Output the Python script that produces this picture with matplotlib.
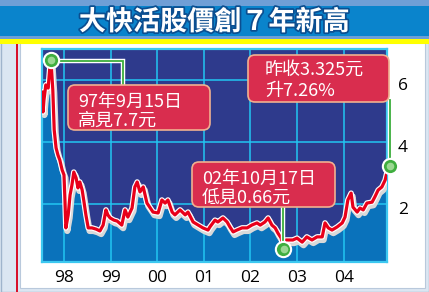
import matplotlib
matplotlib.use('Agg')
import matplotlib.pyplot as plt
import matplotlib.patheffects as pe
from matplotlib.patches import Rectangle, FancyBboxPatch
from matplotlib.transforms import ScaledTranslation

plt.rcParams['font.family'] = ['Noto Sans CJK TC', 'DejaVu Sans']

title = '大快活股價創７年新高'

dates = [1997.53, 1997.55, 1997.57, 1997.61, 1997.66, 1997.70, 1997.72, 1997.76, 1997.79, 1997.83,
         1997.87, 1997.91, 1997.96, 1998.00, 1998.02, 1998.04, 1998.09, 1998.13, 1998.17, 1998.21,
         1998.26, 1998.30, 1998.34, 1998.39, 1998.43, 1998.47, 1998.52, 1998.60, 1998.69, 1998.77,
         1998.84, 1998.90, 1998.94, 1998.99, 1999.07, 1999.14, 1999.24, 1999.31, 1999.37, 1999.46,
         1999.52, 1999.57, 1999.63, 1999.70, 1999.78, 1999.91, 2000.02, 2000.10, 2000.17, 2000.23,
         2000.32, 2000.38, 2000.49, 2000.60, 2000.66, 2000.77, 2000.88, 2000.98, 2001.09, 2001.13,
         2001.24, 2001.30, 2001.41, 2001.50, 2001.56, 2001.63, 2001.71, 2001.82, 2001.93, 2002.03,
         2002.14, 2002.21, 2002.31, 2002.38, 2002.46, 2002.53, 2002.59, 2002.66, 2002.70, 2002.76,
         2002.85, 2002.91, 2003.00, 2003.11, 2003.21, 2003.32, 2003.43, 2003.54, 2003.60, 2003.67,
         2003.75, 2003.86, 2003.97, 2004.03, 2004.09, 2004.16, 2004.20, 2004.29, 2004.35, 2004.42,
         2004.50, 2004.61, 2004.67, 2004.74, 2004.82, 2004.89, 2004.95, 2004.99]
prices = [5.61, 4.97, 5.35, 5.84, 5.74, 6.48, 6.65, 5.68, 4.39, 3.81,
          3.58, 3.42, 3.10, 2.94, 2.13, 1.23, 1.65, 2.29, 2.61, 3.03,
          2.84, 2.52, 2.71, 2.45, 2.06, 1.65, 1.23, 1.23, 1.19, 1.13,
          1.32, 1.81, 1.65, 1.55, 1.48, 1.45, 1.32, 1.81, 1.58, 1.87,
          2.55, 2.71, 2.39, 2.55, 2.03, 1.74, 1.71, 2.13, 2.03, 2.13,
          1.74, 1.65, 1.81, 1.65, 1.74, 1.42, 1.32, 1.23, 1.16, 1.26,
          1.48, 1.42, 1.55, 1.42, 1.26, 1.10, 1.16, 1.23, 1.23, 1.32,
          1.39, 1.32, 1.42, 1.55, 1.32, 1.23, 1.06, 0.90, 0.55, 0.84,
          0.84, 0.84, 0.90, 0.77, 0.94, 0.84, 0.94, 0.94, 1.39, 1.23,
          1.16, 1.26, 1.39, 1.58, 2.13, 2.35, 1.90, 1.74, 1.87, 1.81,
          2.03, 2.06, 2.23, 2.45, 2.55, 2.77, 3.16, 3.22]

year_ticks = [1998, 1999, 2000, 2001, 2002, 2003, 2004]
year_labels = ['98', '99', '00', '01', '02', '03', '04']
price_ticks = [2, 4, 6]
price_labels = ['2', '4', '6']
peak_note = ['97年9月15日', '高見7.7元']
low_note = ['02年10月17日', '低見0.66元']
last_note = ['昨收3.325元', '升7.26%']

W, H = 429, 292
fig = plt.figure(figsize=(W / 100, H / 100), dpi=100)
fig.patch.set_facecolor('#dbe6f2')

# ---------- background frame (pixel coords) ----------
bg = fig.add_axes([0, 0, 1, 1], zorder=0)
bg.set_xlim(0, W)
bg.set_ylim(H, 0)
bg.axis('off')
bg.add_patch(Rectangle((0.5, 0.5), W - 1, H - 1, fc='#dbe6f2', ec='#9fb4cc', lw=1))
bg.add_patch(Rectangle((20, 43), 405, 245, fc='white', ec='#b9c9dc', lw=0.8))
bg.add_patch(Rectangle((15.5, 43), 2, 249, fc='#d8102a', ec='none'))
bg.add_patch(Rectangle((0, 0), W, 39, fc='#0a84cc', ec='none'))
bg.add_patch(Rectangle((0, 0), W, 6, fc='#6f9fd6', ec='none'))
bg.add_patch(Rectangle((0, 35.5), W, 3.5, fc='#6a9fd8', ec='none'))
bg.add_patch(Rectangle((0, 39), W, 4.5, fc='#ffff00', ec='none'))
bg.text(W / 2, 22, title, color='white', fontsize=19.5, fontweight='bold',
        ha='center', va='center',
        path_effects=[pe.withStroke(linewidth=2.5, foreground='#0b4e90')])

# ---------- main chart ----------
L, R, T, B = 42, 387, 49, 262
ax = fig.add_axes([L / W, 1 - B / H, (R - L) / W, (B - T) / H], zorder=1)
ax.set_facecolor('#2e3a8c')
ax.set_xlim(1997.528, 2004.93)
ax.set_ylim(0.13, 7.0)

ax.fill_between(dates, prices, 0, color='#0a72bb', lw=0, zorder=1)
for x in year_ticks:
    ax.axvline(x, color='#22c6f2', lw=1.1, zorder=1.5)
for y in price_ticks:
    ax.axhline(y, color='#22c6f2', lw=1.1, zorder=1.5)

ax.plot(dates, prices, color='#e8001a', lw=2.3, zorder=3, solid_joinstyle='round',
        path_effects=[pe.SimpleLineShadow(offset=(1, -2.2), shadow_color='#d9d9d9',
                                          alpha=1.0, rho=1, linewidth=4.5),
                      pe.Stroke(linewidth=4, foreground='white'),
                      pe.Normal()])

ax.set_xticks(year_ticks, year_labels)
ax.set_yticks(price_ticks, price_labels)
ax.yaxis.tick_right()
ax.tick_params(axis='both', length=0, labelsize=12.5, colors='black')
ax.tick_params(axis='x', pad=6)
ax.tick_params(axis='y', pad=8)
for lbl in ax.get_xticklabels() + ax.get_yticklabels():
    lbl.set_family(['Open Sans', 'DejaVu Sans'])
off = ScaledTranslation(0, -0.04, fig.dpi_scale_trans)
for lbl in ax.get_yticklabels():
    lbl.set_transform(lbl.get_transform() + off)
for s in ax.spines.values():
    s.set_color('#3cc8f0')
    s.set_linewidth(1.6)

# ---------- overlay annotations (pixel coords) ----------
ov = fig.add_axes([0, 0, 1, 1], zorder=5)
ov.set_xlim(0, W)
ov.set_ylim(H, 0)
ov.axis('off')
ov.patch.set_alpha(0)


def to_px(t, v):
    dx, dy = ax.transData.transform((t, v))
    return dx, H - dy


i_peak = prices.index(max(prices))
i_low = prices.index(min(prices))
peak_px = to_px(dates[i_peak], prices[i_peak])
low_px = to_px(dates[i_low], prices[i_low])
last_px = to_px(dates[-1], prices[-1])

conn = dict(color='#3cae3c', lw=1.3, solid_joinstyle='miter',
            path_effects=[pe.Stroke(linewidth=3.2, foreground='white'), pe.Normal()])
ov.plot([peak_px[0], 123, 123], [peak_px[1] + 1.5, peak_px[1] + 1.5, 86], **conn)
ov.plot([last_px[0], last_px[0]], [last_px[1], 100], **conn)
ov.plot([low_px[0], low_px[0]], [low_px[1], 206], **conn)


def box(x0, y0, w, h, lines, tx, ty):
    ov.add_patch(FancyBboxPatch((x0, y0), w, h, boxstyle='round,pad=0,rounding_size=7',
                                fc='#d92d4e', ec='#f0b090', lw=1.2, zorder=3))
    for line, yy in zip(lines, ty):
        ov.text(tx, yy, line, color='white', fontsize=13, ha='left', va='center', zorder=4)


box(68, 85, 142, 45, peak_note, 78, [102, 121])
box(248, 55, 141, 47, last_note, 265, [70, 91])
box(192, 162, 143, 45, low_note, 202, [179, 198])

for px, py in (peak_px, low_px, last_px):
    ov.plot(px, py, 'o', ms=11, mfc='#3fae3f', mec='white', mew=1.5, zorder=6)
    ov.plot(px + 0.5, py + 0.3, 'o', ms=5.5, mfc='#a6dd9c', mec='none', alpha=0.9, zorder=7)

fig.savefig('out.png', dpi=100, facecolor=fig.get_facecolor())
